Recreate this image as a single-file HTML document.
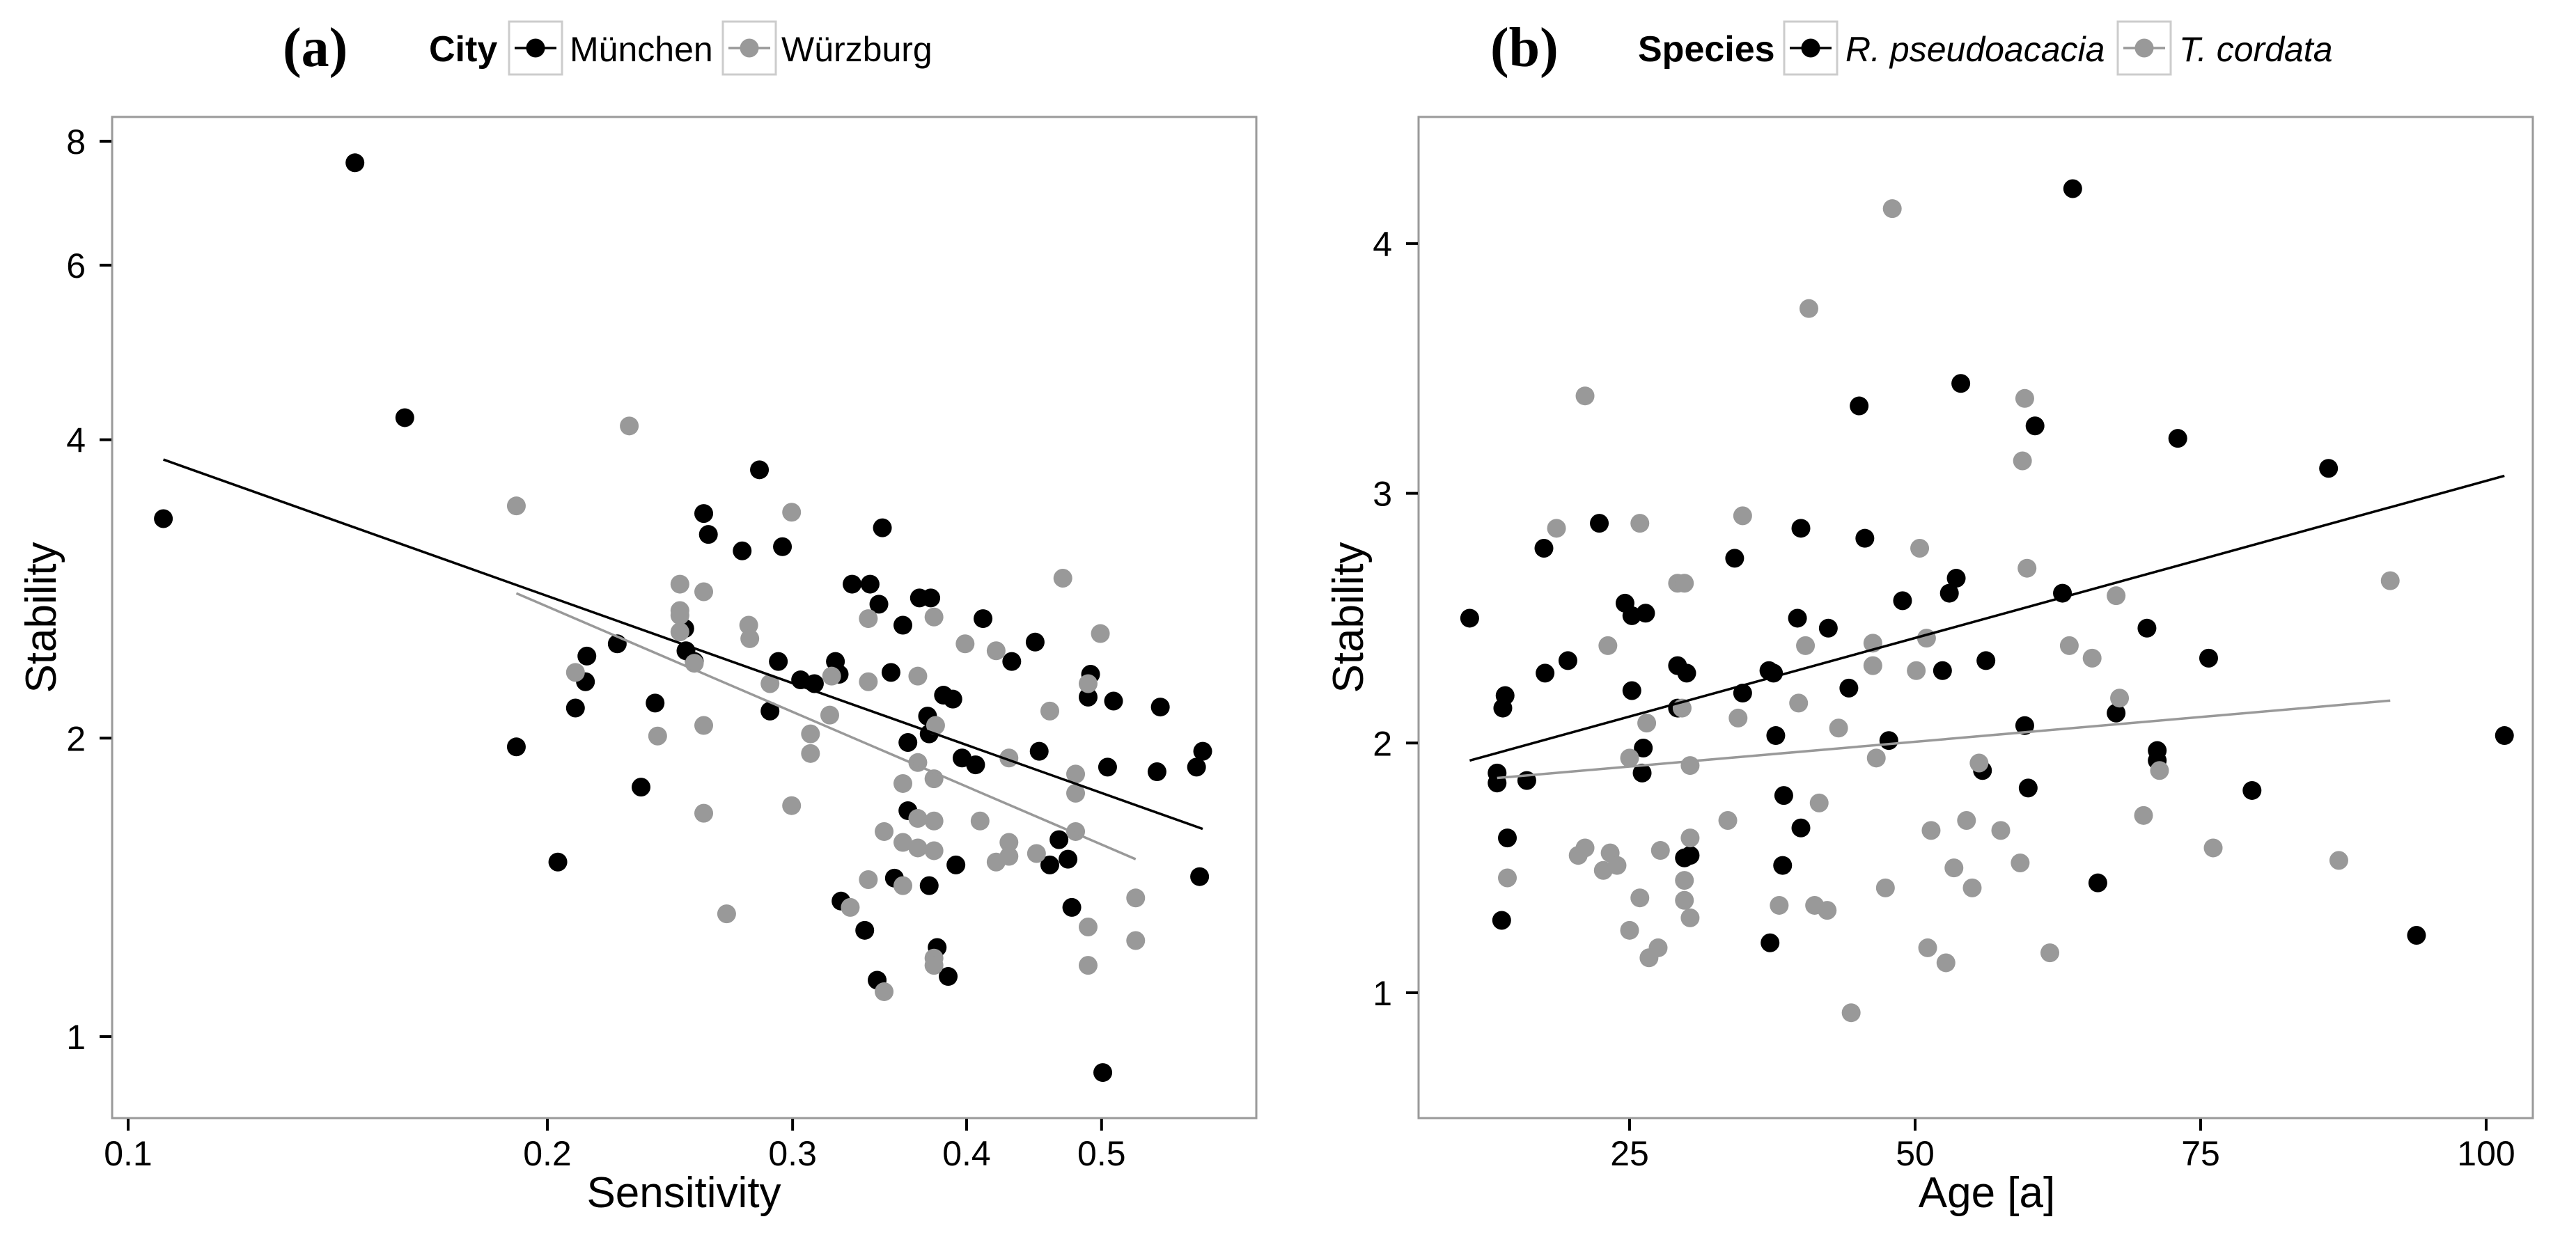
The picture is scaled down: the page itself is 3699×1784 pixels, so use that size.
<!DOCTYPE html>
<html><head><meta charset="utf-8">
<style>
html,body{margin:0;padding:0;background:#fff;}
svg{display:block;}
text{font-family:"Liberation Sans",sans-serif;}
</style></head>
<body>
<svg id="fig" width="3699" height="1784" viewBox="0 0 3699 1784" xmlns="http://www.w3.org/2000/svg"></svg>
<script>
// ---------- Panel (a) data ----------
const aMunX = [0.1455,0.158,0.106,0.284,0.259,0.261,0.276,0.295,0.348,0.331,0.341,0.346,0.370,0.377,0.360,0.411,0.448,0.431,0.251,0.2245,0.2135,0.2515,0.255,0.293,0.322,0.324,0.304,0.311,0.353,0.213,0.2095,0.239,0.289,0.385,0.391,0.375,0.376,0.363,0.190,0.397,0.406,0.451,0.491,0.489,0.510,0.551,0.505,0.548,0.585,0.591,0.2335,0.363,0.2035,0.355,0.376,0.393,0.466,0.473,0.459,0.588,0.476,0.325,0.338,0.381,0.345,0.388,0.501];
const aMunY = [7.61,4.21,3.33,3.73,3.37,3.21,3.09,3.12,3.26,2.86,2.86,2.73,2.77,2.77,2.60,2.64,2.50,2.39,2.58,2.49,2.42,2.45,2.39,2.39,2.39,2.32,2.29,2.27,2.33,2.28,2.145,2.17,2.13,2.21,2.19,2.105,2.02,1.98,1.96,1.91,1.88,1.94,2.32,2.20,2.18,2.15,1.87,1.85,1.87,1.94,1.785,1.69,1.50,1.445,1.42,1.49,1.58,1.51,1.49,1.45,1.35,1.37,1.28,1.23,1.14,1.15,0.92];
const aWurX = [0.229,0.190,0.2995,0.249,0.259,0.249,0.249,0.249,0.279,0.2795,0.340,0.379,0.399,0.420,0.469,0.499,0.2095,0.255,0.289,0.320,0.340,0.369,0.319,0.459,0.489,0.259,0.240,0.309,0.309,0.380,0.369,0.429,0.479,0.360,0.379,0.479,0.2995,0.259,0.369,0.379,0.409,0.349,0.479,0.360,0.369,0.379,0.429,0.429,0.420,0.449,0.340,0.360,0.330,0.269,0.529,0.489,0.529,0.379,0.379,0.489,0.349];
const aWurY = [4.13,3.43,3.38,2.86,2.81,2.69,2.66,2.56,2.60,2.52,2.64,2.65,2.49,2.45,2.90,2.55,2.33,2.38,2.27,2.31,2.28,2.31,2.11,2.13,2.27,2.06,2.01,2.02,1.93,2.06,1.89,1.91,1.84,1.80,1.82,1.76,1.71,1.68,1.66,1.65,1.65,1.61,1.61,1.57,1.55,1.54,1.57,1.52,1.50,1.53,1.44,1.42,1.35,1.33,1.38,1.29,1.25,1.20,1.18,1.18,1.11];
const aFitMunX = [0.106,0.591], aFitMunY = [3.82,1.62];
const aFitWurX = [0.190,0.529], aFitWurY = [2.80,1.51];
const aXTicks = [0.1,0.2,0.3,0.4,0.5];
const aXTickLabels = ["0.1","0.2","0.3","0.4","0.5"];
const aYTicks = [1,2,4,6,8];
const aYTickLabels = ["1","2","4","6","8"];

// ---------- Panel (b) data ----------
const bRobX = [63.8,54.0,45.1,60.5,73.0,86.2,22.35,40.0,17.5,45.6,34.2,53.6,53.0,62.9,48.9,24.6,26.4,25.2,11.0,39.7,42.4,70.3,75.7,56.2,19.6,17.6,29.2,30.0,37.2,37.6,52.4,44.2,25.2,34.9,14.1,13.9,29.2,67.6,59.6,37.8,47.7,101.6,26.2,71.2,71.2,13.4,16.0,13.4,26.1,55.9,59.9,79.5,38.5,40.0,14.3,30.3,29.8,38.4,66.0,13.8,37.3,93.9];
const bRobY = [4.22,3.44,3.35,3.27,3.22,3.10,2.88,2.86,2.78,2.82,2.74,2.66,2.60,2.60,2.57,2.56,2.52,2.51,2.50,2.50,2.46,2.46,2.34,2.33,2.33,2.28,2.31,2.28,2.29,2.28,2.29,2.22,2.21,2.20,2.19,2.14,2.14,2.12,2.07,2.03,2.01,2.03,1.98,1.97,1.93,1.88,1.85,1.84,1.88,1.89,1.82,1.81,1.79,1.66,1.62,1.55,1.54,1.51,1.44,1.29,1.20,1.23];
const bTilX = [48.0,40.7,21.1,59.6,59.4,34.9,18.6,25.9,50.4,29.2,29.8,91.6,59.8,67.6,23.1,40.4,46.3,51.0,63.5,65.5,46.3,50.1,39.8,29.6,67.9,34.5,26.5,43.3,25.0,30.3,46.6,55.6,71.4,70.0,33.6,41.6,54.5,51.4,57.5,30.3,76.1,20.5,21.1,23.3,22.7,23.9,27.7,59.2,87.1,53.4,29.8,14.3,55.0,47.4,25.9,29.8,38.1,41.2,42.3,30.3,25.0,27.5,26.7,51.1,52.7,61.8,44.4];
const bTilY = [4.14,3.74,3.39,3.38,3.13,2.91,2.86,2.88,2.78,2.64,2.64,2.65,2.70,2.59,2.39,2.39,2.40,2.42,2.39,2.34,2.31,2.29,2.16,2.14,2.18,2.10,2.08,2.06,1.94,1.91,1.94,1.92,1.89,1.71,1.69,1.76,1.69,1.65,1.65,1.62,1.58,1.55,1.58,1.56,1.49,1.51,1.57,1.52,1.53,1.50,1.45,1.46,1.42,1.42,1.38,1.37,1.35,1.35,1.33,1.30,1.25,1.18,1.14,1.18,1.12,1.16,0.92];
const bFitRobX = [11.0,101.6], bFitRobY = [1.93,3.07];
const bFitTilX = [13.4,91.6], bFitTilY = [1.86,2.17];
const bXTicks = [25,50,75,100];
const bXTickLabels = ["25","50","75","100"];
const bYTicks = [1,2,3,4];
const bYTickLabels = ["1","2","3","4"];

const NS = "http://www.w3.org/2000/svg";
const svg = document.getElementById('fig');
const BLACK = "#000", GREY = "#999";

function mk(tag, attrs, parent, text){
  const e = document.createElementNS(NS, tag);
  for (const k in attrs) e.setAttribute(k, attrs[k]);
  if (text !== undefined) e.textContent = text;
  (parent || svg).appendChild(e);
  return e;
}

const axA = {
  x: v => 184 + 602 * Math.log2(v / 0.1),
  y: v => 1489 - 428.7 * Math.log2(v),
  left: 161, right: 1804, top: 168, bottom: 1606
};
const axB = {
  x: v => 2340 + 16.4 * (v - 25),
  y: v => 1426 - 358.7 * (v - 1),
  left: 2037, right: 3637, top: 168, bottom: 1606
};

function drawPanel(ax, name, xt, xtl, yt, ytl, xTitle, xTitleX, yTitleX){
  const g = mk('g', {});
  
  
  const frame = mk('rect', {x: ax.left, y: ax.top, width: ax.right - ax.left, height: ax.bottom - ax.top, fill: '#fff', stroke: '#9a9a9a', 'stroke-width': 3}, g);
  
  
  xt.forEach((v, i) => {
    const X = ax.x(v);
    const t = mk('line', {x1: X, x2: X, y1: ax.bottom + 1, y2: ax.bottom + 18, stroke: '#000', 'stroke-width': 4}, g);
    
    
    const l = mk('text', {x: X, y: 1674, 'font-size': 50, 'text-anchor': 'middle', fill: '#000'}, g, xtl[i]);
    
    
  });
  yt.forEach((v, i) => {
    const Y = ax.y(v);
    const t = mk('line', {x1: ax.left - 18, x2: ax.left - 1, y1: Y, y2: Y, stroke: '#000', 'stroke-width': 4}, g);
    
    
    const l = mk('text', {x: ax.left - 38, y: Y + 18, 'font-size': 50, 'text-anchor': 'end', fill: '#000'}, g, ytl[i]);
    
    
  });
  const xtT = mk('text', {x: xTitleX, y: 1734, 'font-size': 62, 'text-anchor': 'middle', fill: '#000'}, g, xTitle);
  
  
  const cy = (ax.top + ax.bottom) / 2;
  const ytT = mk('text', {x: yTitleX, y: cy, 'font-size': 62, 'text-anchor': 'middle', fill: '#000', transform: `rotate(-90 ${yTitleX} ${cy})`}, g, 'Stability');
  
  
  return g;
}

function drawPoints(ax, g, xs, ys, color, name){
  xs.forEach((v, i) => {
    const c = mk('circle', {cx: ax.x(v), cy: ax.y(ys[i]), r: 13.5, fill: color}, g);
    
    
  });
}
function drawFit(ax, g, xs, ys, color, name){
  const l = mk('line', {x1: ax.x(xs[0]), y1: ax.y(ys[0]), x2: ax.x(xs[1]), y2: ax.y(ys[1]), stroke: color, 'stroke-width': 3.5}, g);
  
  
}

const gA = drawPanel(axA, 'panel-a', aXTicks, aXTickLabels, aYTicks, aYTickLabels, 'Sensitivity', 982, 80);
drawPoints(axA, gA, aMunX, aMunY, BLACK, 'point-munchen');
drawPoints(axA, gA, aWurX, aWurY, GREY, 'point-wurzburg');
drawFit(axA, gA, aFitMunX, aFitMunY, BLACK, 'trend-line-munchen');
drawFit(axA, gA, aFitWurX, aFitWurY, GREY, 'trend-line-wurzburg');

const gB = drawPanel(axB, 'panel-b', bXTicks, bXTickLabels, bYTicks, bYTickLabels, 'Age [a]', 2853, 1957);
drawPoints(axB, gB, bRobX, bRobY, BLACK, 'point-r-pseudoacacia');
drawPoints(axB, gB, bTilX, bTilY, GREY, 'point-t-cordata');
drawFit(axB, gB, bFitRobX, bFitRobY, BLACK, 'trend-line-r-pseudoacacia');
drawFit(axB, gB, bFitTilX, bFitTilY, GREY, 'trend-line-t-cordata');

function legendKey(x, color, name){
  const g = mk('g', {});
  
  
  mk('rect', {x: x, y: 31, width: 76, height: 76, fill: '#fff', stroke: '#ccc', 'stroke-width': 3}, g);
  mk('line', {x1: x + 8, x2: x + 68, y1: 69, y2: 69, stroke: color, 'stroke-width': 3.5}, g);
  mk('circle', {cx: x + 38, cy: 69, r: 13.5, fill: color}, g);
}
function label(x, y, txt, size, extra, name){
  const t = mk('text', Object.assign({x: x, y: y, 'font-size': size, fill: '#000'}, extra), svg, txt);
  
  
}
const SERIF = 'font-family:"Liberation Serif",serif;font-weight:bold;';
label(406, 95, '(a)', 80, {style: SERIF}, 'panel-label-a');
label(616, 88, 'City', 52, {'font-weight': 'bold'}, 'legend-title-city');
legendKey(731, BLACK, 'legend-key-munchen');
label(818, 88, 'München', 50, {}, 'legend-label-munchen');
legendKey(1038, GREY, 'legend-key-wurzburg');
label(1122, 88, 'Würzburg', 50, {}, 'legend-label-wurzburg');

label(2140, 95, '(b)', 80, {style: SERIF}, 'panel-label-b');
label(2352, 88, 'Species', 52, {'font-weight': 'bold'}, 'legend-title-species');
legendKey(2562, BLACK, 'legend-key-r-pseudoacacia');
label(2650, 88, 'R. pseudoacacia', 50, {'font-style': 'italic'}, 'legend-label-r-pseudoacacia');
legendKey(3041, GREY, 'legend-key-t-cordata');
label(3129, 88, 'T. cordata', 50, {'font-style': 'italic'}, 'legend-label-t-cordata');
</script>
</body></html>
